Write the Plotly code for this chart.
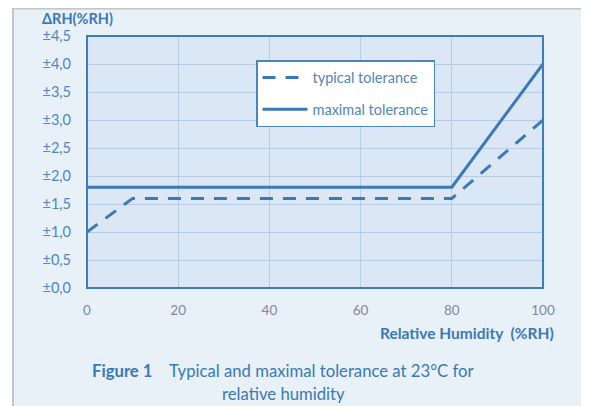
import plotly.graph_objects as go

# Data
typ_x = [0, 10, 80, 100]
typ_y = [1.0, 1.6, 1.6, 3.0]
max_x = [0, 80, 100]
max_y = [1.8, 1.8, 4.0]
y_tickvals = [0, 0.5, 1.0, 1.5, 2.0, 2.5, 3.0, 3.5, 4.0, 4.5]
y_ticktext = ["±0,0", "±0,5", "±1,0", "±1,5", "±2,0", "±2,5", "±3,0", "±3,5", "±4,0", "±4,5"]
x_tickvals = [0, 20, 40, 60, 80, 100]

# page body has an 8px margin
OFF = 8
W, H = 589 - OFF, 406 - OFF
PL, PR, PT, PB = 87, 543, 36, 288   # plot area in screen pixels
pw, ph = PR - PL, PB - PT
L, T = PL - OFF, PT - OFF
R = W - (PR - OFF)
B = H - (PB - OFF)

def px(x):
    return (x - PL) / pw

def py(y):
    return (PB - y) / ph

LINE = "#3b78b7"
FONT = "Lato"

fig = go.Figure()
fig.add_trace(go.Scatter(x=typ_x, y=typ_y, mode="lines", name="typical tolerance",
                         legendgroup="a",
                         line=dict(color=LINE, width=3, dash="13px,10px")))
fig.add_trace(go.Scatter(x=max_x, y=max_y, mode="lines", name="maximal tolerance",
                         legendgroup="b",
                         line=dict(color=LINE, width=3)))

shapes = [
    dict(type="rect", xref="paper", yref="paper", x0=px(13), x1=px(582), y0=py(430), y1=py(8.5),
         fillcolor="#e8f0f8", line=dict(color="#c4c4c4", width=2), layer="below"),
    dict(type="rect", xref="paper", yref="paper", x0=0, x1=1, y0=0, y1=1,
         fillcolor="#dbe7f4", line=dict(width=0), layer="below"),
    dict(type="rect", xref="paper", yref="paper", x0=0, x1=1, y0=0, y1=1,
         fillcolor="rgba(0,0,0,0)", line=dict(color="#3f7cba", width=2), layer="above"),
]

annotations = [
    dict(text="<b>ΔRH(%RH)</b>", xref="paper", yref="paper", x=px(40), y=py(18),
         xanchor="left", yanchor="middle", showarrow=False,
         font=dict(family=FONT, size=14.5, color="#3b78b7")),
    dict(text="<b>Relative Humidity\u00a0\u00a0(%RH)</b>", xref="paper", yref="paper", x=px(556), y=py(333),
         xanchor="right", yanchor="middle", showarrow=False,
         font=dict(family=FONT, size=15.5, color="#3b78b7")),
    dict(text="<b>Figure 1</b>\u00a0\u00a0\u00a0\u00a0Typical and maximal tolerance at 23°C for",
         xref="paper", yref="paper", x=px(283), y=py(370.5),
         xanchor="center", yanchor="middle", showarrow=False,
         font=dict(family=FONT, size=16.7, color="#3b78b7")),
    dict(text="relative humidity",
         xref="paper", yref="paper", x=px(283), y=py(393.5),
         xanchor="center", yanchor="middle", showarrow=False,
         font=dict(family=FONT, size=16.7, color="#3b78b7")),
]

fig.update_layout(
    width=W, height=H,
    margin=dict(l=L, r=R, t=T, b=B, autoexpand=False),
    paper_bgcolor="white",
    plot_bgcolor="rgba(0,0,0,0)",
    shapes=shapes,
    annotations=annotations,
    showlegend=True,
    legend=dict(x=px(256), y=py(60), xanchor="left", yanchor="top",
                bgcolor="white", bordercolor="#4a86c0", borderwidth=1.5,
                font=dict(family=FONT, size=14.5, color="#4f86c0"),
                tracegroupgap=10, itemwidth=45),
    xaxis=dict(range=[0, 100], tickvals=x_tickvals, showgrid=True, gridcolor="#b7cde6",
               gridwidth=1, zeroline=False, showline=False, ticks="",
               tickfont=dict(family=FONT, size=13.5, color="#8585a6"), ticklabelstandoff=12),
    yaxis=dict(range=[0, 4.5], tickvals=y_tickvals, ticktext=y_ticktext, showgrid=True,
               gridcolor="#b7cde6", gridwidth=1, zeroline=False, showline=False, ticks="",
               tickfont=dict(family=FONT, size=14.5, color="#4f86c0"), ticklabelstandoff=15),
)

fig.write_html("out.html")
